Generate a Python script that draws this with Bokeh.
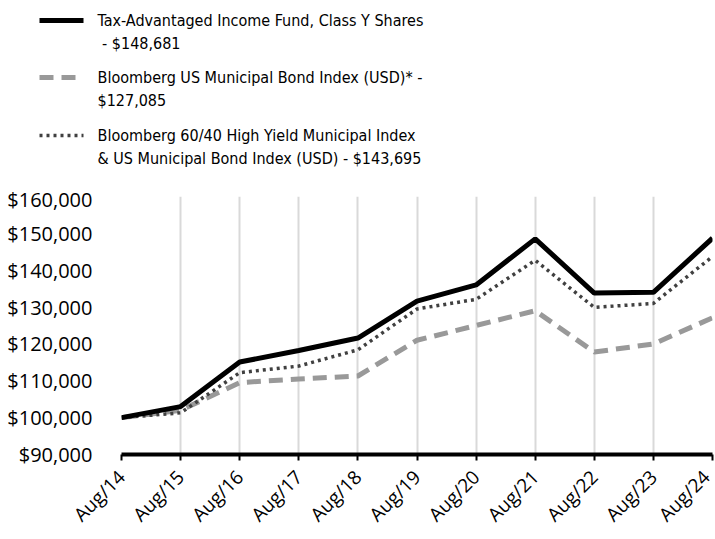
from bokeh.plotting import figure
from bokeh.layouts import column, row
from bokeh.models import FixedTicker, Range1d, NumeralTickFormatter
from bokeh.core.properties import value
from bokeh.embed import file_html
from bokeh.resources import INLINE
import math

years = ["Aug/14", "Aug/15", "Aug/16", "Aug/17", "Aug/18", "Aug/19",
         "Aug/20", "Aug/21", "Aug/22", "Aug/23", "Aug/24"]
fund = [100000, 103000, 115100, 118200, 121600, 131600, 136000, 148500, 133800, 134000, 148681]
muni = [100000, 102000, 109500, 110500, 111300, 121000, 125000, 129000, 117800, 120000, 127085]
hy6040 = [100000, 101300, 112200, 114000, 118400, 129500, 132100, 142700, 129900, 131000, 143695]
y_ticks = [90000, 100000, 110000, 120000, 130000, 140000, 150000, 160000]

legend_labels = ["Tax-Advantaged Income Fund, Class Y Shares\n\u00a0- $148,681",
                 "Bloomberg US Municipal Bond Index (USD)* -\n$127,085",
                 "Bloomberg 60/40 High Yield Municipal Index\n& US Municipal Bond Index (USD) - $143,695"]

LEG_FONT = "'DejaVu Sans Condensed', 'DejaVu Sans', sans-serif"
AX_FONT = "Open Sans"

# ---- legend figure ----
leg = figure(width=715, height=185, output_backend="svg", toolbar_location=None,
             x_range=Range1d(0, 715), y_range=Range1d(185, 0),
             min_border=0, outline_line_color=None)
leg.axis.visible = False
leg.grid.visible = False
styles = [dict(line_color="black", line_width=5),
          dict(line_color="#999999", line_width=5, line_dash="14 8"),
          dict(line_color="#404040", line_width=3.5, line_dash="3 4")]
rows_y = [20, 77, 135]
for lab, st, yy in zip(legend_labels, styles, rows_y):
    leg.line([39, 83], [yy, yy], **st)
    leg.text([97], [yy - 10], text=[lab], text_font=value(LEG_FONT), text_font_size="16px",
             text_baseline="top", text_align="left", text_color="black", text_line_height=1.25)

# ---- main chart ----
xs = list(range(len(years)))
p = figure(width=715, height=354, output_backend="svg", toolbar_location=None,
           x_range=Range1d(0, 10), y_range=Range1d(90000, 160000),
           min_border_left=121, min_border_right=3, min_border_top=11, min_border_bottom=84,
           outline_line_color=None)

p.line(xs, muni, line_color="#999999", line_width=5, line_dash="14 8")
p.line(xs, hy6040, line_color="#404040", line_width=3.5, line_dash="3 4")
p.line(xs, fund, line_color="black", line_width=5)

p.xaxis.ticker = FixedTicker(ticks=xs)
p.xaxis.major_label_overrides = {i: y for i, y in enumerate(years)}
p.xaxis.major_label_orientation = math.pi / 4
p.xaxis.axis_line_width = 4
p.xaxis.axis_line_color = "black"
p.xaxis.major_tick_out = 6
p.xaxis.major_tick_in = 0
p.xaxis.major_tick_line_width = 2
p.xaxis.minor_tick_line_color = None
p.xaxis.major_label_text_font = AX_FONT
p.xaxis.major_label_text_font_size = "19px"
p.xaxis.major_label_text_color = "black"
p.xaxis.major_label_standoff = 13

p.yaxis.ticker = FixedTicker(ticks=y_ticks)
p.yaxis.formatter = NumeralTickFormatter(format="$0,0")
p.yaxis.axis_line_color = None
p.yaxis.major_tick_line_color = None
p.yaxis.minor_tick_line_color = None
p.yaxis.major_label_text_font = AX_FONT
p.yaxis.major_label_text_font_size = "20px"
p.yaxis.major_label_text_color = "black"
p.yaxis.major_label_standoff = 23

p.xgrid.grid_line_color = "#d9d9d9"
p.xgrid.grid_line_width = 2
p.ygrid.grid_line_color = None

layout = column(row(leg), p, spacing=0)
open("out.html", "w").write(file_html(layout, INLINE))
